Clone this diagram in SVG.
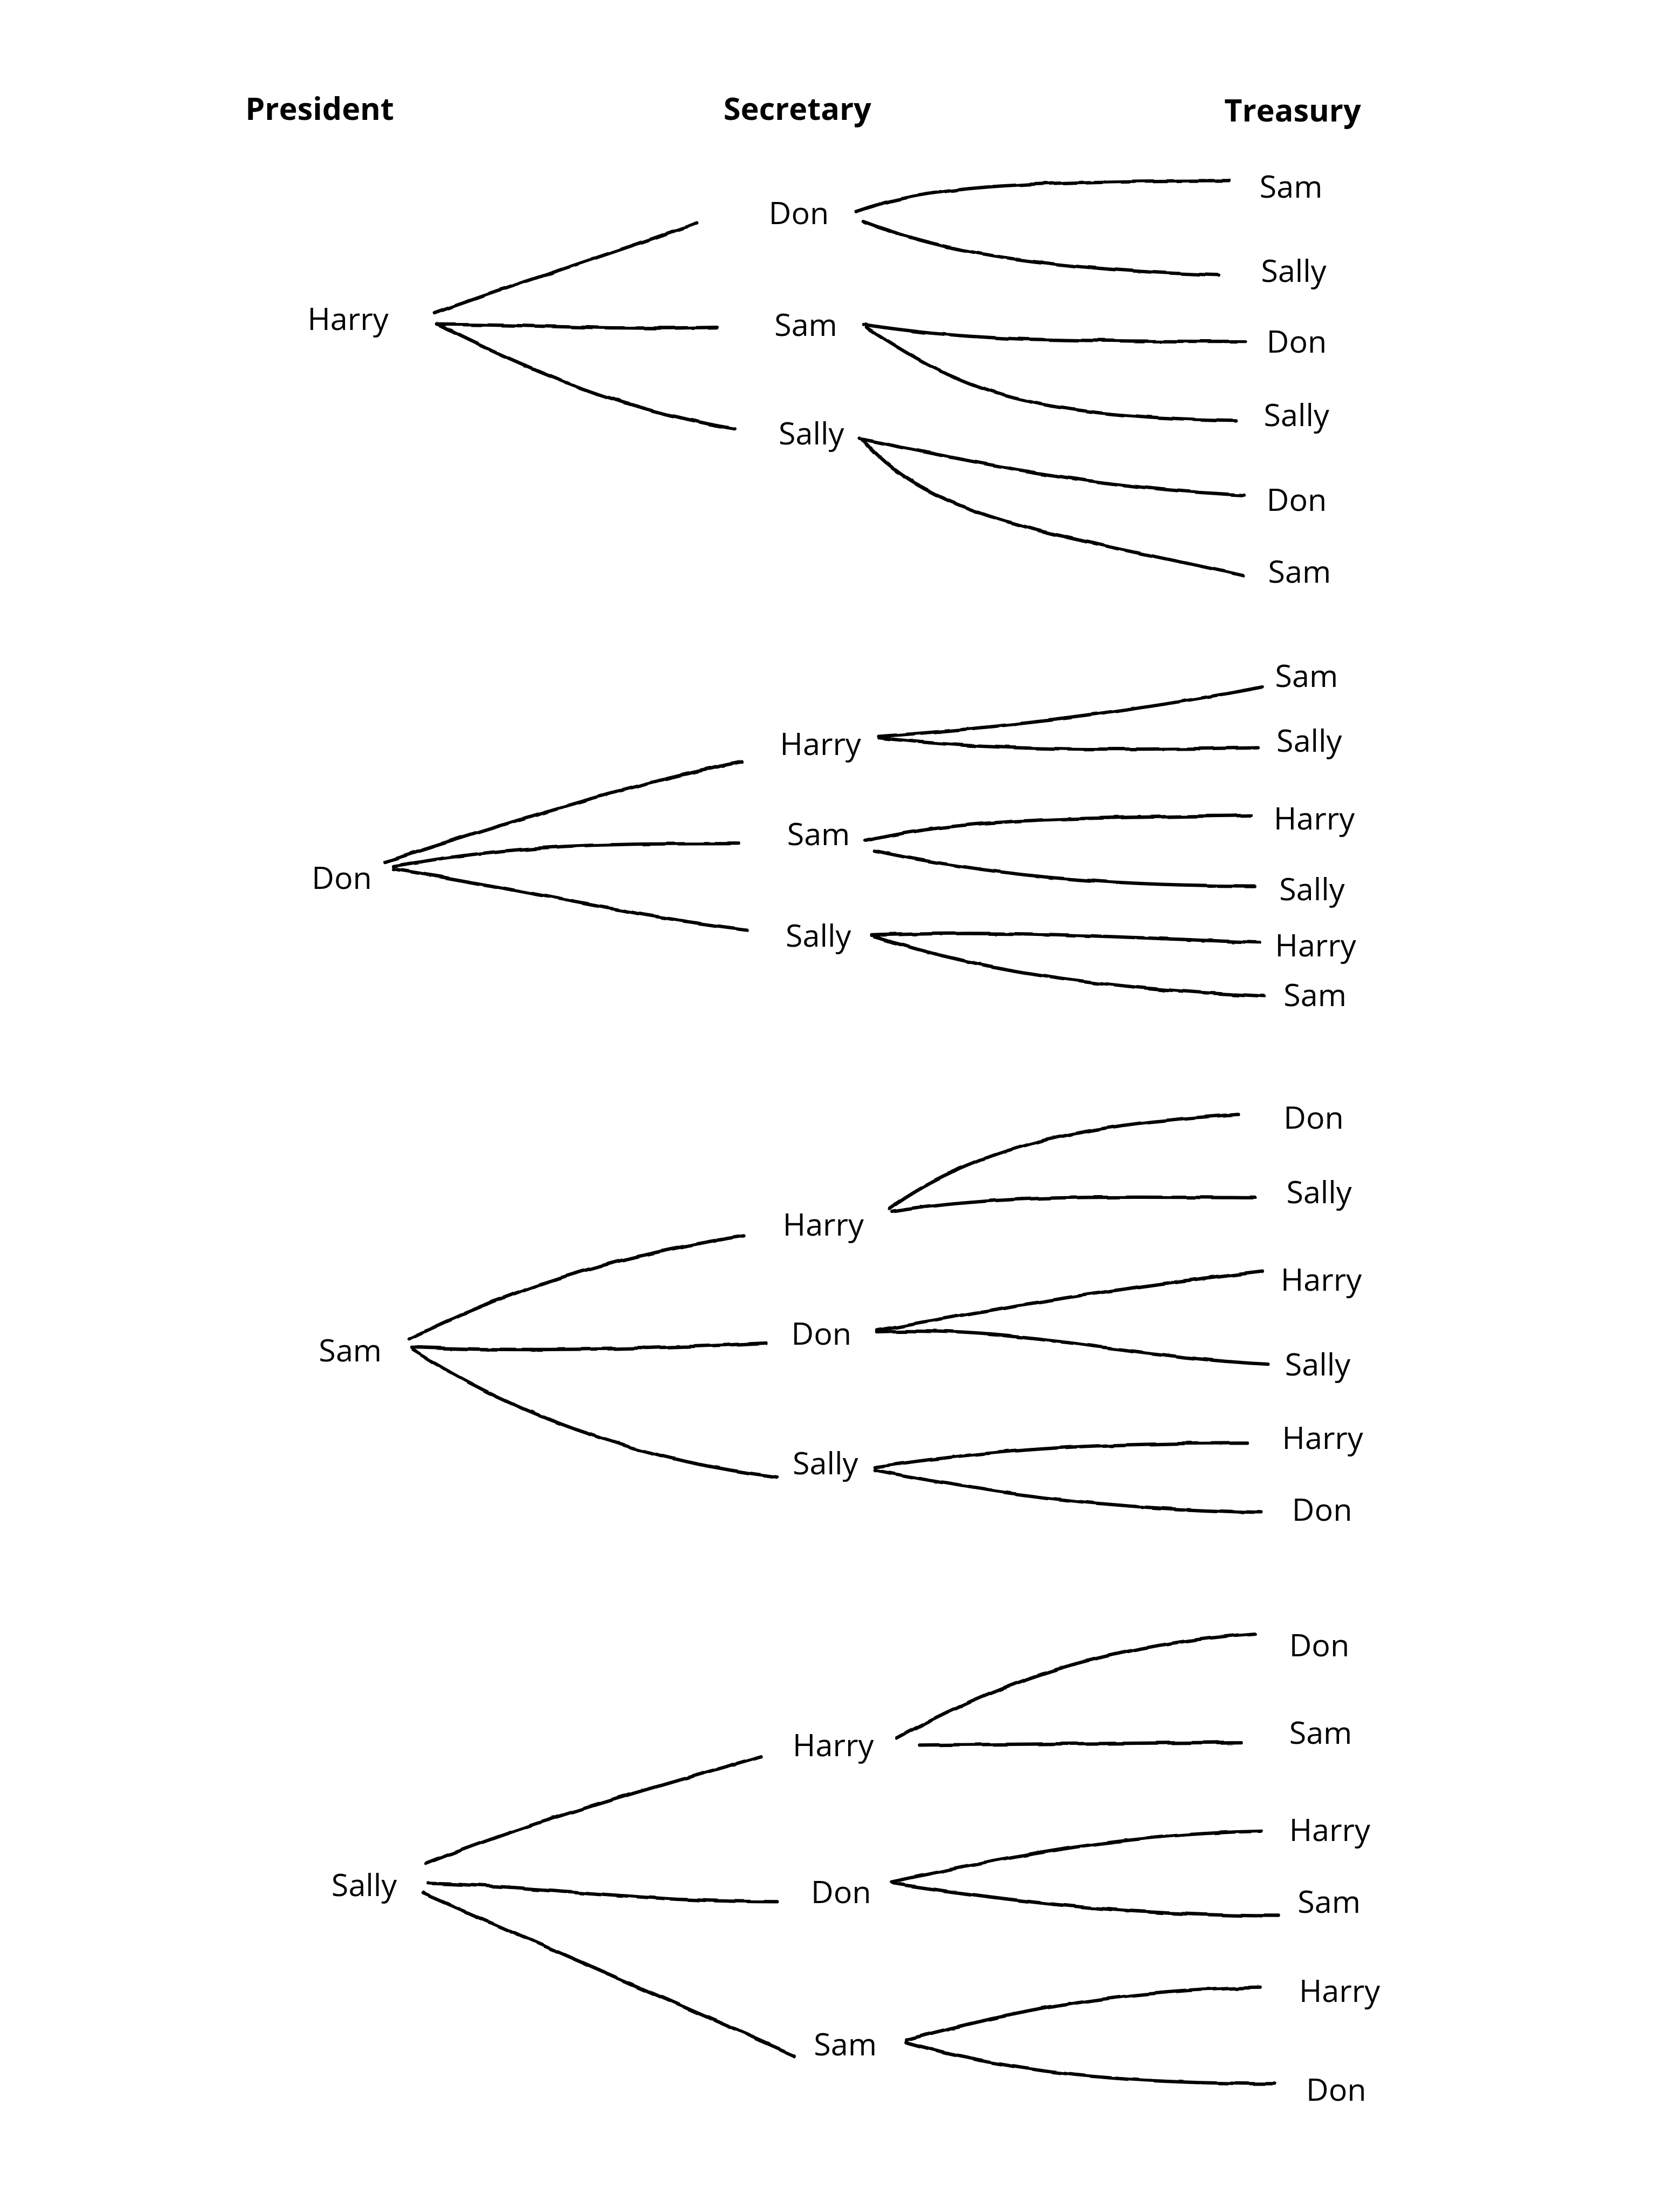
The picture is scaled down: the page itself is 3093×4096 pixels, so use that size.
<svg xmlns="http://www.w3.org/2000/svg" width="3093" height="4096" viewBox="0 0 3093 4096">
<style>
.t{font-family:"Open Sans","Noto Sans","Liberation Sans",sans-serif;font-size:22px;fill:#000}
.h{font-weight:bold}
.c path{fill:none;stroke:#000;stroke-width:2.4;stroke-linecap:round;stroke-linejoin:round}
</style>
<defs>
<filter id="wobble" x="-5%" y="-5%" width="110%" height="110%">
<feTurbulence type="fractalNoise" baseFrequency="0.06" numOctaves="2" seed="3" result="n"/>
<feDisplacementMap in="SourceGraphic" in2="n" scale="2.2" xChannelSelector="R" yChannelSelector="G"/>
</filter>
</defs>
<rect width="3093" height="4096" fill="#fff"/>
<g transform="scale(2.6123)">
<g id="headers">
<text class="t h" x="174" y="85">President</text>
<text class="t h" x="513" y="85">Secretary</text>
<text class="t h" x="868" y="86">Treasury</text>
</g>
<g id="connectors" class="c" filter="url(#wobble)">
<!-- tree 1 -->
<path d="M308,222 C380,196 440,178 494,158"/>
<path d="M310,230 C380,230 420,234 508,232"/>
<path d="M310,230 C380,265 440,290 521,304"/>
<path d="M607,150 C650,135 700,128 871,128"/>
<path d="M612,157 C660,175 720,190 864,195"/>
<path d="M612,230 C680,240 720,242 883,242"/>
<path d="M614,232 C680,275 720,295 876,298"/>
<path d="M610,311 C700,330 780,346 882,351"/>
<path d="M612,312 C660,370 760,380 881,408"/>
<!-- tree 2 -->
<path d="M273,611 C370,580 450,555 526,540"/>
<path d="M279,614 C370,598 430,598 524,598"/>
<path d="M279,616 C370,630 450,650 530,659"/>
<path d="M623,522 C720,515 800,505 895,487"/>
<path d="M623,523 C700,532 780,532 892,530"/>
<path d="M614,596 C680,580 760,580 887,578"/>
<path d="M620,603 C700,620 780,628 890,628"/>
<path d="M618,663 C720,659 800,665 893,668"/>
<path d="M620,664 C700,690 800,702 897,706"/>
<!-- tree 3 -->
<path d="M290,949 C370,910 440,890 527,876"/>
<path d="M292,955 C370,958 450,957 543,952"/>
<path d="M293,957 C360,1000 450,1035 551,1047"/>
<path d="M630,857 C700,805 800,795 878,790"/>
<path d="M632,859 C700,848 760,848 890,849"/>
<path d="M622,943 C720,925 800,912 895,901"/>
<path d="M622,944 C720,940 800,962 899,967"/>
<path d="M620,1040 C720,1025 800,1023 884,1023"/>
<path d="M620,1042 C720,1062 800,1070 894,1072"/>
<!-- tree 4 -->
<path d="M302,1321 C380,1290 460,1268 540,1245"/>
<path d="M304,1335 C400,1338 450,1348 551,1348"/>
<path d="M300,1342 C400,1385 480,1420 563,1457"/>
<path d="M636,1232 C720,1185 800,1165 890,1158"/>
<path d="M652,1237 C720,1236 800,1235 880,1235"/>
<path d="M632,1334 C720,1315 800,1300 894,1298"/>
<path d="M633,1335 C720,1348 800,1358 906,1358"/>
<path d="M642,1446 C720,1425 800,1410 893,1409"/>
<path d="M642,1448 C720,1470 800,1477 904,1477"/>
</g>
<g id="tree1">
<text class="t" x="218" y="234">Harry</text>
<text class="t" x="545" y="159">Don</text>
<text class="t" x="549" y="238">Sam</text>
<text class="t" x="552" y="315">Sally</text>
<text class="t" x="893" y="140">Sam</text>
<text class="t" x="894" y="200">Sally</text>
<text class="t" x="898" y="250">Don</text>
<text class="t" x="896" y="302">Sally</text>
<text class="t" x="898" y="362">Don</text>
<text class="t" x="899" y="413">Sam</text>
</g>
<g id="tree2">
<text class="t" x="221" y="630">Don</text>
<text class="t" x="553" y="535">Harry</text>
<text class="t" x="558" y="599">Sam</text>
<text class="t" x="557" y="671">Sally</text>
<text class="t" x="904" y="487">Sam</text>
<text class="t" x="905" y="533">Sally</text>
<text class="t" x="903" y="588">Harry</text>
<text class="t" x="907" y="638">Sally</text>
<text class="t" x="904" y="678">Harry</text>
<text class="t" x="910" y="713">Sam</text>
</g>
<g id="tree3">
<text class="t" x="226" y="965">Sam</text>
<text class="t" x="555" y="876">Harry</text>
<text class="t" x="561" y="953">Don</text>
<text class="t" x="562" y="1045">Sally</text>
<text class="t" x="910" y="800">Don</text>
<text class="t" x="912" y="853">Sally</text>
<text class="t" x="908" y="915">Harry</text>
<text class="t" x="911" y="975">Sally</text>
<text class="t" x="909" y="1027">Harry</text>
<text class="t" x="916" y="1078">Don</text>
</g>
<g id="tree4">
<text class="t" x="235" y="1344">Sally</text>
<text class="t" x="562" y="1245">Harry</text>
<text class="t" x="575" y="1349">Don</text>
<text class="t" x="577" y="1457">Sam</text>
<text class="t" x="914" y="1174">Don</text>
<text class="t" x="914" y="1236">Sam</text>
<text class="t" x="914" y="1305">Harry</text>
<text class="t" x="920" y="1356">Sam</text>
<text class="t" x="921" y="1419">Harry</text>
<text class="t" x="926" y="1489">Don</text>
</g>
</g>
</svg>
